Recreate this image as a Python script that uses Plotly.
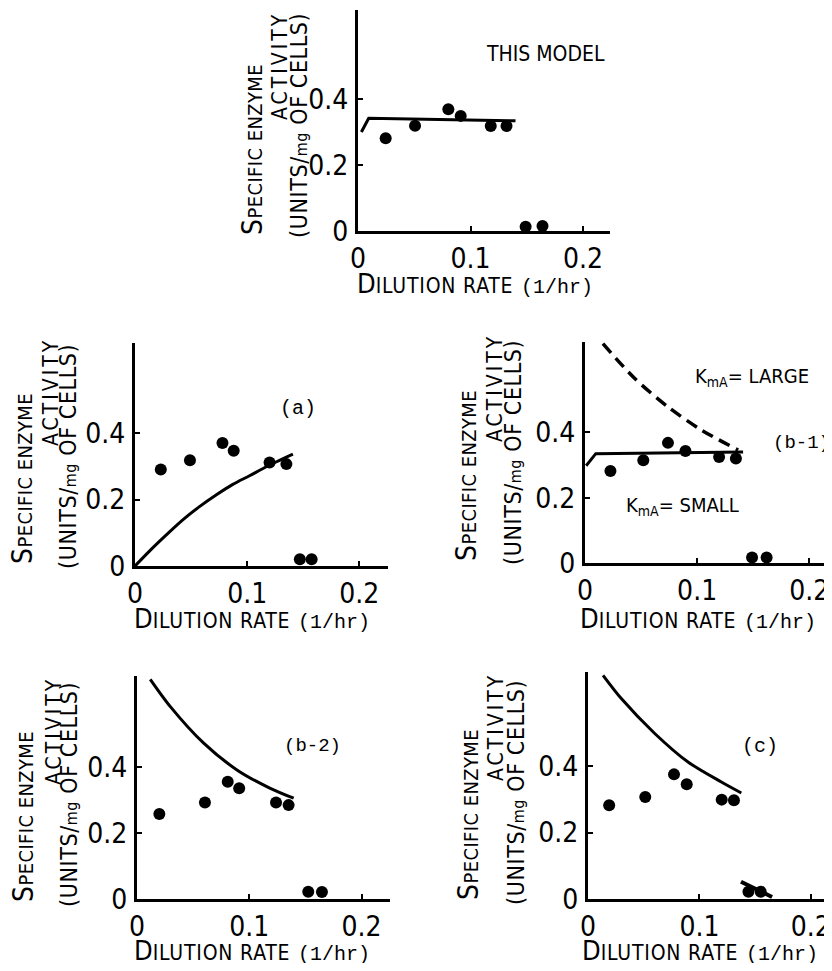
import plotly.graph_objects as go

# ---------------- data ----------------
# Top panel: "THIS MODEL"
top_x = [0.0246, 0.0507, 0.0803, 0.0913, 0.118, 0.132, 0.149, 0.164]
top_y = [0.281, 0.319, 0.369, 0.349, 0.318, 0.318, 0.013, 0.015]
top_line_x = [0.003, 0.0095, 0.140]
top_line_y = [0.300, 0.342, 0.334]

# Panel (a)
a_x = [0.023, 0.049, 0.078, 0.088, 0.120, 0.135, 0.147, 0.1575]
a_y = [0.291, 0.319, 0.371, 0.347, 0.312, 0.307, 0.020, 0.020]
a_curve_x = [0.0, 0.0129, 0.0277, 0.0426, 0.0575, 0.0723, 0.0872, 0.1021, 0.117, 0.1408]
a_curve_y = [0.0, 0.045, 0.093, 0.139, 0.179, 0.214, 0.246, 0.272, 0.299, 0.337]

# Panel (b-1)
b1_x = [0.0227, 0.052, 0.074, 0.0896, 0.1196, 0.1346, 0.149, 0.162]
b1_y = [0.282, 0.315, 0.368, 0.343, 0.325, 0.320, 0.017, 0.017]
b1_small_x = [0.001, 0.0096, 0.141]
b1_small_y = [0.298, 0.335, 0.340]
b1_large_x = [0.016, 0.0444, 0.0741, 0.104, 0.1366]
b1_large_y = [0.672, 0.565, 0.478, 0.407, 0.346]

# Panel (b-2)
b2_x = [0.0199, 0.0605, 0.0808, 0.091, 0.1238, 0.135, 0.1525, 0.1647]
b2_y = [0.258, 0.293, 0.356, 0.336, 0.293, 0.285, 0.022, 0.021]
b2_curve_x = [0.0118, 0.0297, 0.0594, 0.089, 0.1187, 0.1395]
b2_curve_y = [0.667, 0.584, 0.473, 0.392, 0.336, 0.306]

# Panel (c)
c_x = [0.019, 0.0514, 0.0772, 0.0886, 0.120, 0.131, 0.144, 0.155]
c_y = [0.282, 0.307, 0.375, 0.345, 0.299, 0.297, 0.022, 0.022]
c_curve_x = [0.0135, 0.0299, 0.0599, 0.0898, 0.1197, 0.1376]
c_curve_y = [0.673, 0.603, 0.498, 0.412, 0.352, 0.319]
c_tail_x = [0.1373, 0.1652]
c_tail_y = [0.052, 0.006]

x_tickvals = [0, 0.1, 0.2]
x_ticktext = ["0", "0.1", "0.2"]
y_tickvals = [0, 0.2, 0.4]
y_ticktext = ["0", "0.2", "0.4"]

# ---------------- layout geometry ----------------
# The page body keeps its default 8px margin, so the figure is sized to
# fill the 832x971 window exactly; positions below are given in window
# pixels and converted to figure paper coordinates.
PAGE_OFF = 8
FW, FH = 832 - PAGE_OFF, 971 - 2 * PAGE_OFF
FONT = "DejaVu Sans Condensed, DejaVu Sans, sans-serif"
MONO = "Liberation Mono, DejaVu Sans Mono, monospace"


def px(x):
    return (x - PAGE_OFF) / FW


def py(y):
    return 1 - (y - PAGE_OFF) / FH


TX = -1  # horizontal correction for rotated title boxes
panels = [
    dict(x0=358, x1=610, y0=231, y1=10, xmax=0.224, ymax=0.670,
         t1=(253, 149), t2=(281, 66), t3=(300, 126), xt=(475, 283)),
    dict(x0=135, x1=388, y0=566, y1=343, xmax=0.2256, ymax=0.672,
         t1=(23, 479), t2=(52, 392), t3=(69, 456), xt=(252, 618)),
    dict(x0=585, x1=832, y0=563, y1=342, xmax=0.2203, ymax=0.677,
         t1=(467, 476), t2=(496, 388), t3=(514, 453), xt=(698, 618)),
    dict(x0=137, x1=390, y0=899, y1=676, xmax=0.2253, ymax=0.677,
         t1=(24, 817), t2=(55, 731), t3=(70, 794), xt=(252, 950)),
    dict(x0=588, x1=832, y0=899, y1=672, xmax=0.219, ymax=0.683,
         t1=(469, 815), t2=(497, 727), t3=(517, 792), xt=(700, 950)),
]

fig = go.Figure()


def add_points(i, xs, ys):
    sfx = "" if i == 0 else str(i + 1)
    fig.add_trace(go.Scatter(x=xs, y=ys, mode="markers", xaxis="x" + sfx, yaxis="y" + sfx,
                             marker=dict(color="black", size=12), cliponaxis=False,
                             showlegend=False, hoverinfo="skip"))


def add_line(i, xs, ys, dash="solid", smooth=True, width=3):
    sfx = "" if i == 0 else str(i + 1)
    fig.add_trace(go.Scatter(x=xs, y=ys, mode="lines", xaxis="x" + sfx, yaxis="y" + sfx,
                             line=dict(color="black", width=width, dash=dash,
                                       shape="spline" if smooth else "linear", smoothing=0.8),
                             cliponaxis=False, showlegend=False, hoverinfo="skip"))


add_line(0, top_line_x, top_line_y, smooth=False)
add_points(0, top_x, top_y)
add_line(1, a_curve_x, a_curve_y)
add_points(1, a_x, a_y)
add_line(2, b1_small_x, b1_small_y, smooth=False)
add_line(2, b1_large_x, b1_large_y, dash="12px,7px", width=3.5)
add_points(2, b1_x, b1_y)
add_line(3, b2_curve_x, b2_curve_y)
add_points(3, b2_x, b2_y)
add_line(4, c_curve_x, c_curve_y)
add_line(4, c_tail_x, c_tail_y, smooth=False, width=4)
add_points(4, c_x, c_y)

layout = dict(width=FW, height=FH, margin=dict(l=0, r=0, t=0, b=0, autoexpand=False),
              paper_bgcolor="white", plot_bgcolor="white", showlegend=False,
              font=dict(family=FONT, color="black"))

annotations = []
for i, p in enumerate(panels):
    sfx = "" if i == 0 else str(i + 1)
    axis_common = dict(showline=True, linecolor="black", linewidth=3, showgrid=False,
                       zeroline=False, ticks="inside", ticklen=5, tickwidth=2,
                       tickcolor="black", fixedrange=True, ticklabeloverflow="allow",
                       tickfont=dict(family=FONT, size=28, color="black"))
    layout["xaxis" + sfx] = dict(domain=[px(p["x0"]), min(px(p["x1"]), 1.0)],
                                 range=[0, p["xmax"]], anchor="y" + sfx,
                                 tickvals=x_tickvals, ticktext=x_ticktext,
                                 ticklabelstandoff=0, **axis_common)
    layout["yaxis" + sfx] = dict(domain=[py(p["y0"]), py(p["y1"])], range=[0, p["ymax"]],
                                 anchor="x" + sfx, tickvals=y_tickvals, ticktext=y_ticktext,
                                 ticklabelstandoff=1, **axis_common)
    # y title (three rotated lines)
    annotations.append(dict(x=px(p["t1"][0] + TX), y=py(p["t1"][1]), xref="paper", yref="paper",
                            text="<span style='letter-spacing:0.4px'>S<span style='font-size:20px'>PECIFIC ENZYME</span></span>",
                            textangle=-90, showarrow=False, xanchor="center", yanchor="middle",
                            font=dict(family=FONT, size=28, color="black")))
    annotations.append(dict(x=px(p["t2"][0] + TX), y=py(p["t2"][1]), xref="paper", yref="paper",
                            text="<span style='letter-spacing:3px'>ACTIVITY</span>",
                            textangle=-90, showarrow=False,
                            xanchor="center", yanchor="middle",
                            font=dict(family=FONT, size=21, color="black")))
    annotations.append(dict(x=px(p["t3"][0] + TX), y=py(p["t3"][1]), xref="paper", yref="paper",
                            text="<span style='letter-spacing:0.6px'>(UNITS/<span style='font-size:16px'>mg</span> OF CELLS)</span>",
                            textangle=-90, showarrow=False, xanchor="center", yanchor="middle",
                            font=dict(family=FONT, size=23, color="black")))
    # x title
    annotations.append(dict(x=px(p["xt"][0]), y=py(p["xt"][1]), xref="paper", yref="paper",
                            text="D<span style='font-size:21px; letter-spacing:0.8px'>ILUTION RATE</span> "
                                 "<span style='font-family:Liberation Mono, monospace; font-size:20px'>(1/hr)</span>",
                            showarrow=False, xanchor="center", yanchor="middle",
                            font=dict(family=FONT, size=27, color="black")))

# panel labels
labels = [
    ("THIS MODEL", 545, 54, FONT, 21),
    ("(a)", 298, 408, MONO, 20),
    ("(b-1)", 801, 443, MONO, 19),
    ("(b-2)", 312, 746, MONO, 19),
    ("(c)", 760, 746, MONO, 20),
    ("K<sub>mA</sub>= LARGE", 752, 377, FONT, 20),
    ("K<sub>mA</sub>= SMALL", 682, 506, FONT, 20),
]
for txt, x, y, fam, sz in labels:
    annotations.append(dict(x=px(x), y=py(y), xref="paper", yref="paper", text=txt,
                            showarrow=False, xanchor="center", yanchor="middle",
                            font=dict(family=fam, size=sz, color="black")))

layout["annotations"] = annotations
fig.update_layout(**layout)
fig.write_html("out.html", config={"displayModeBar": False})
